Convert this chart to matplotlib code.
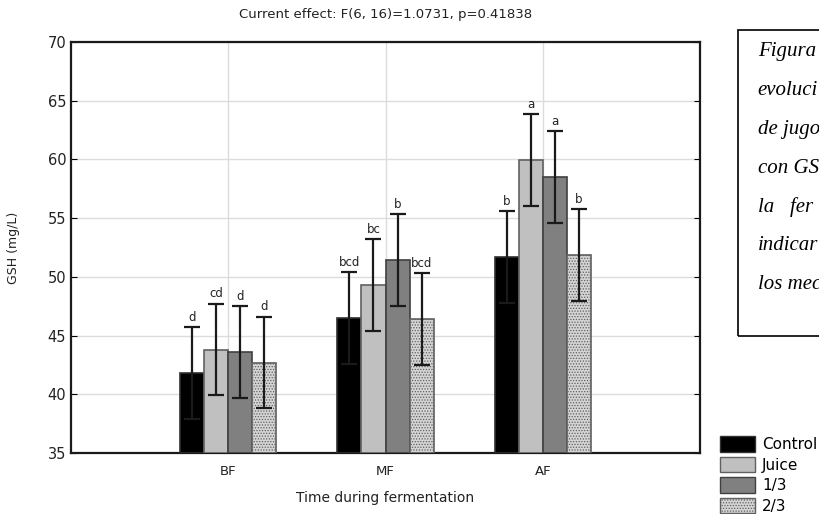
import numpy as np
import matplotlib
matplotlib.use('Agg')
import matplotlib.pyplot as plt
from matplotlib.patches import Rectangle, Patch

# data
times = ['BF', 'MF', 'AF']
groups = ['Control', 'Juice', '1/3', '2/3']
control = [41.8, 46.5, 51.7]
juice = [43.8, 49.3, 59.95]
third = [43.6, 51.45, 58.5]
two_thirds = [42.7, 46.4, 51.85]
err = [3.9, 3.9, 3.9]
letters = [['d', 'bcd', 'b'],
           ['cd', 'bc', 'a'],
           ['d', 'b', 'a'],
           ['d', 'bcd', 'b']]

# only the part of the caption that fits on the page
caption_lines = ['Figura', 'evoluci', 'de jugo', 'con GS', 'la   fer', 'indicar', 'los mec']

fig = plt.figure(figsize=(8.2, 5.14), dpi=100)
ax = fig.add_axes([0.0866, 0.1187, 0.7671, 0.7996])

styles = [dict(color='black', edgecolor='#303030'),
          dict(color='#c0c0c0', edgecolor='#606060'),
          dict(color='#808080', edgecolor='#404040'),
          dict(color='#d4d4d4', edgecolor='#606060', hatch='......')]
series = [control, juice, third, two_thirds]

x = np.arange(1, len(times) + 1)
w = 0.153
offsets = np.array([-1.5, -0.5, 0.5, 1.5]) * w

plt.rcParams['hatch.color'] = '#9a9a9a'
plt.rcParams['hatch.linewidth'] = 0.6

for i, vals in enumerate(series):
    st = styles[i]
    ax.bar(x + offsets[i], np.array(vals) - 35, width=w, bottom=35,
           color=st['color'], edgecolor=st['edgecolor'], linewidth=1.2,
           hatch=st.get('hatch'), zorder=3)
    ax.errorbar(x + offsets[i], vals, yerr=err, fmt='none', ecolor='#1a1a1a',
                elinewidth=1.6, capsize=6, capthick=1.6, zorder=4)
    for j, v in enumerate(vals):
        ax.text(x[j] + offsets[i], v + err[j] + 0.3, letters[i][j], ha='center', va='bottom',
                fontsize=8.5, color='#222222', zorder=5)

ax.set_xlim(0, 4)
ax.set_ylim(35, 70)
ax.set_xticks(x)
ax.set_xticklabels(times, fontsize=9.5, color='#222222')
ax.set_yticks(range(35, 71, 5))
ax.tick_params(axis='y', direction='in', length=4, labelsize=10.5, right=True, labelcolor='#222222')
ax.tick_params(axis='x', length=0, pad=9)
ax.grid(True, color='#dcdcdc', linewidth=1.0, zorder=0)
ax.set_axisbelow(True)
for s in ax.spines.values():
    s.set_linewidth(1.6)
    s.set_color('#1a1a1a')

ax.set_ylabel('GSH (mg/L)', fontsize=9, color='#222222', labelpad=20)
ax.set_xlabel('Time during fermentation', fontsize=10, color='#222222', labelpad=9)
ax.set_title('Current effect: F(6, 16)=1.0731, p=0.41838', fontsize=9.5, color='#222222', pad=17)

# caption box, cut off at the right edge
fig.patches.append(Rectangle((0.9, 0.346), 0.2, 0.596, transform=fig.transFigure,
                             fill=False, edgecolor='black', linewidth=1.2))
for k, line in enumerate(caption_lines):
    fig.text(0.924, 0.899 - k * 0.0753, line, family='Liberation Serif', style='italic',
             fontsize=15, va='center', ha='left')

# legend
handles = [Patch(facecolor=st['color'], edgecolor=st['edgecolor'], hatch=st.get('hatch'))
           for st in styles]
fig.legend(handles, groups, loc='upper left', bbox_to_anchor=(0.878, 0.151), frameon=False,
           fontsize=11, handlelength=2.3, handleheight=1.18, labelspacing=0.3,
           handletextpad=0.45, borderpad=0, borderaxespad=0)

fig.savefig('out.png', dpi=100)
